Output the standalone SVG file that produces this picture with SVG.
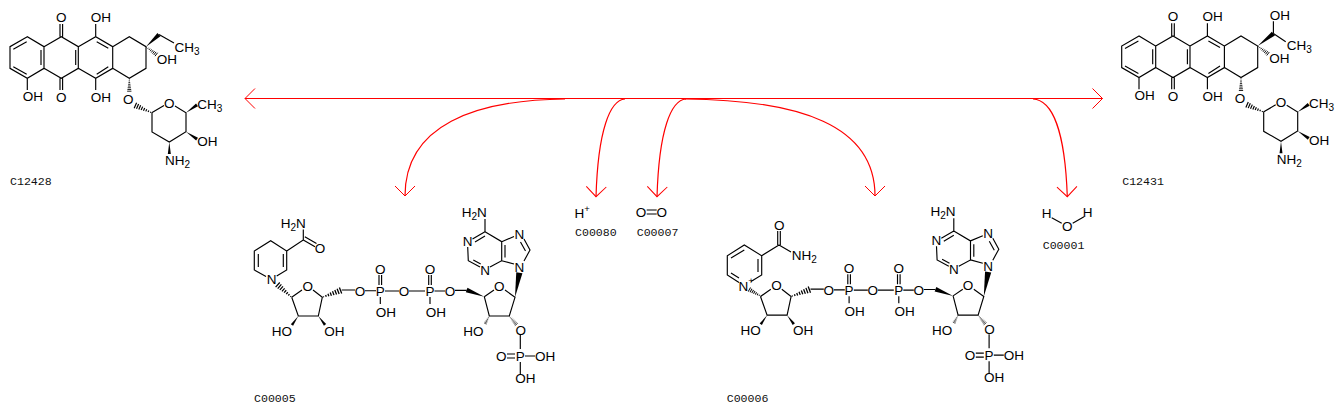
<svg xmlns="http://www.w3.org/2000/svg" xmlns:xlink="http://www.w3.org/1999/xlink" width="1343" height="413" viewBox="0 0 1343 413">
<style>
.b{fill:none;stroke:#000;stroke-width:1.15}
.t{font:13.5px "Liberation Sans",Arial,sans-serif;fill:#000}
.c{text-anchor:middle}
.s{font-size:10px}
.p{font-size:9.5px}
.l{font:11.6px "Liberation Mono","Courier New",monospace;fill:#111}
.r{fill:none;stroke:#f00;stroke-width:1.2}
.w{fill:#000}
.h{fill:none;stroke:#000;stroke-width:1}
</style>
<defs>
<polygon id="wedge" points="0,0 16,-2 16,2"/>
<path id="hash" d="M1 -.4V.4M3 -.7V.7M5 -1V1M7 -1.3V1.3M9 -1.6V1.6M11 -1.9V1.9M13 -2.2V2.2M15 -2.5V2.5"/>
<marker id="a" markerUnits="userSpaceOnUse" markerWidth="14" markerHeight="24" refX="11" refY="11" orient="auto-start-reverse" viewBox="0 0 14 24"><path d="M1 1L11 11L1 21" fill="none" stroke="#f00" stroke-width="1"/></marker>
</defs>
<rect width="1343" height="413" fill="#fff"/>

<g id="connectors">
<path class="r" marker-start="url(#a)" marker-end="url(#a)" d="M245 98.5H1102.5"/>
<path class="r" marker-end="url(#a)" d="M565 99C475 100 405 125 405 196"/>
<path class="r" marker-end="url(#a)" d="M625 99C610 100 598 130 596 196.7"/>
<path class="r" marker-end="url(#a)" d="M686 99C671 100 659 130 657 196.7"/>
<path class="r" marker-end="url(#a)" d="M685 99C800 100 875 125 875 196"/>
<path class="r" marker-end="url(#a)" d="M1033 99C1052 100 1065 130 1067.3 196.7"/>
</g>

<g id="C12428">
<path class="b" d="M27.3 36.7L10 46.7V68.3L27.3 78.3L44 68.3V46.7ZM44 46.7L61.3 36.7L78.3 46.7V68.3L61.3 78.3L44 68.3M78.3 46.7L95.7 36.7L112.7 46.7V68.3L95.7 78.3L78.3 68.3M112.7 46.7L129.3 36.7L146 46.7V68.3L129.3 78.3L112.7 68.3M13.3 49.3L26.7 41.7M13.3 66.7L26.7 74.3M41 50V65M75.7 50V65M96.7 41.7L108.3 48.3M96.7 74.3L108.3 66.7M60 36.7V24M62.6 36.7V24M60 78.3V90M62.6 78.3V90M95.7 36.7V24M95.7 78.3V90M27.3 78.3V90M151.7 112.7L164 105.5M175 106L186 112.7V131.7L169.3 142L152 132V112.7M159 34.5L174 43"/>
<use xlink:href="#wedge" class="w" transform="translate(146 46.7) rotate(-43) scale(1.11)"/>
<use xlink:href="#hash" class="h" transform="translate(146 46.7) rotate(37) scale(.86)"/>
<use xlink:href="#hash" class="h" transform="translate(129.3 78.3) rotate(90) scale(.86)"/>
<use xlink:href="#hash" class="h" transform="translate(151.7 112.7) rotate(203.9) scale(1.19)"/>
<use xlink:href="#wedge" class="w" transform="translate(186 112.7) rotate(-35) scale(.84)"/>
<use xlink:href="#wedge" class="w" transform="translate(186 131.7) rotate(33.6) scale(.83)"/>
<use xlink:href="#wedge" class="w" transform="translate(169.3 142) rotate(90) scale(.75)"/>
<text class="t c" x="61.3" y="22">O</text>
<text class="t c" x="61.3" y="101.5">O</text>
<text class="t" x="90.7" y="22">OH</text>
<text class="t" x="90.7" y="101.5">OH</text>
<text class="t" x="22.7" y="101">OH</text>
<text class="t" x="174.5" y="51.5">CH<tspan class="s" dy="3">3</tspan></text>
<text class="t" x="156.7" y="63.5">OH</text>
<text class="t c" x="128.3" y="104">O</text>
<text class="t c" x="169.3" y="108">O</text>
<text class="t" x="197.3" y="109">CH<tspan class="s" dy="3">3</tspan></text>
<text class="t" x="197.3" y="145.7">OH</text>
<text class="t" x="165" y="164.5">NH<tspan class="s" dy="3">2</tspan></text>
<text class="l" x="10" y="185">C12428</text>
</g>

<g id="C12431" transform="translate(1111.7 -.7)">
<path class="b" d="M27.3 36.7L10 46.7V68.3L27.3 78.3L44 68.3V46.7ZM44 46.7L61.3 36.7L78.3 46.7V68.3L61.3 78.3L44 68.3M78.3 46.7L95.7 36.7L112.7 46.7V68.3L95.7 78.3L78.3 68.3M112.7 46.7L129.3 36.7L146 46.7V68.3L129.3 78.3L112.7 68.3M13.3 49.3L26.7 41.7M13.3 66.7L26.7 74.3M41 50V65M75.7 50V65M96.7 41.7L108.3 48.3M96.7 74.3L108.3 66.7M60 36.7V24M62.6 36.7V24M60 78.3V90M62.6 78.3V90M95.7 36.7V24M95.7 78.3V90M27.3 78.3V90M151.7 112.7L164 105.5M175 106L186 112.7V131.7L169.3 142L152 132V112.7M161.7 34.3L174 42.5M161.7 34.3V22"/>
<use xlink:href="#wedge" class="w" transform="translate(146 46.7) rotate(-38.3) scale(1.25)"/>
<use xlink:href="#hash" class="h" transform="translate(146 46.7) rotate(37) scale(.86)"/>
<use xlink:href="#hash" class="h" transform="translate(129.3 78.3) rotate(90) scale(.86)"/>
<use xlink:href="#hash" class="h" transform="translate(151.7 112.7) rotate(203.9) scale(1.19)"/>
<use xlink:href="#wedge" class="w" transform="translate(186 112.7) rotate(-35) scale(.84)"/>
<use xlink:href="#wedge" class="w" transform="translate(186 131.7) rotate(33.6) scale(.83)"/>
<use xlink:href="#wedge" class="w" transform="translate(169.3 142) rotate(90) scale(.75)"/>
<text class="t c" x="61.3" y="22">O</text>
<text class="t c" x="61.3" y="101.5">O</text>
<text class="t" x="90.7" y="22">OH</text>
<text class="t" x="90.7" y="101.5">OH</text>
<text class="t" x="22.7" y="101">OH</text>
<text class="t" x="158" y="20.5">OH</text>
<text class="t" x="175" y="51">CH<tspan class="s" dy="3">3</tspan></text>
<text class="t" x="157.5" y="64">OH</text>
<text class="t c" x="128.3" y="104">O</text>
<text class="t c" x="169.3" y="108">O</text>
<text class="t" x="197.3" y="109">CH<tspan class="s" dy="3">3</tspan></text>
<text class="t" x="197.3" y="145.7">OH</text>
<text class="t" x="165" y="164.5">NH<tspan class="s" dy="3">2</tspan></text>
<text class="l" x="10.5" y="185.7">C12431</text>
</g>

<g id="C00005">
<path class="b" d="M276.7 276L286.7 270V251L270.7 240.7L254.3 251V270L266 276.5M258.3 254V267M283.3 254V267M286.7 251L303.3 240V229.5M303.3 240L315 246.7M304.8 236.8L316.5 243.6"/>
<use xlink:href="#hash" class="h" transform="translate(291.7 297.3) rotate(221.6) scale(1.25)"/>
<g>
<path class="b" d="M291.7 297.3L302 290M313 290L322.3 297.3L318.3 316H298.3L291.7 297.3M341.7 290H355M365 290.7H376M379 285V275M381.6 285V275M380.3 297V304M385 291H399M409 291H425M428.7 285V275M431.3 285V275M430 297V304M434.5 291H445M455 290.3H466.7M484.3 296.7L494 290M505 290L515 297.3L509.3 316H489.3L484.3 296.7M485 231.7L472.5 239M485 236L475 242M467.7 247L468.3 260.7L480 267M473.3 260L480.7 264M490 267L501.7 260.7V241.7L485 231.7M505 245V257.5M501.7 241.7L514 236.5M524 239L530 250L524 261M520.5 242L525.5 251M514 264L501.7 260.7M485 231.7V219M520.3 335V349M507 354H515M507 358H515M525 356H535M520.3 362V374"/>
<use xlink:href="#hash" class="h" transform="translate(322.3 297.3) rotate(-20.6) scale(1.3)"/>
<use xlink:href="#wedge" class="w" transform="translate(298.3 316) rotate(125) scale(.69)"/>
<use xlink:href="#wedge" class="w" transform="translate(318.3 316) rotate(53) scale(.7)"/>
<use xlink:href="#wedge" class="w" transform="translate(484.3 296.7) rotate(200.8) scale(1.18)"/>
<use xlink:href="#wedge" class="w" transform="translate(515 297.3) rotate(-80) scale(1.56)"/>
<use xlink:href="#hash" class="h" transform="translate(489.3 316) rotate(118) scale(.57)"/>
<use xlink:href="#hash" class="h" transform="translate(509.3 316) rotate(50.6) scale(.73)"/>
<text class="t c" x="307.7" y="291">O</text>
<text class="t c" x="360" y="296">O</text>
<text class="t c" x="380.3" y="296">P</text>
<text class="t c" x="380.3" y="274">O</text>
<text class="t" x="375.7" y="316.7">OH</text>
<text class="t c" x="404" y="296">O</text>
<text class="t c" x="430" y="296">P</text>
<text class="t c" x="430" y="274">O</text>
<text class="t" x="425.7" y="317.3">OH</text>
<text class="t c" x="450" y="296">O</text>
<text class="t c" x="499.3" y="291">O</text>
<text class="t c" x="519.3" y="272">N</text>
<text class="t c" x="485" y="275">N</text>
<text class="t c" x="467.7" y="246">N</text>
<text class="t c" x="519.3" y="239.3">N</text>
<text class="t" x="461.7" y="216.7">H<tspan class="s" dy="3">2</tspan><tspan dy="-3">N</tspan></text>
<text class="t" x="463.3" y="335.7">HO</text>
<text class="t c" x="520.7" y="335">O</text>
<text class="t c" x="520.3" y="361">P</text>
<text class="t c" x="501.3" y="361">O</text>
<text class="t" x="535" y="361">OH</text>
<text class="t" x="515.3" y="383.3">OH</text>
<text class="t" x="271.7" y="335.7">HO</text>
<text class="t" x="324.3" y="335.5">OH</text>
</g>
<text class="t" x="280.7" y="228.3">H<tspan class="s" dy="3">2</tspan><tspan dy="-3">N</tspan></text>
<text class="t c" x="320" y="252.5">O</text>
<text class="t c" x="271.7" y="284">N</text>
<text class="l" x="254" y="402">C00005</text>
</g>

<g id="C00006">
<path class="b" d="M739 282.5L727.3 275V255.7L744.3 245L761.7 255.7V275L751 281.5M731 258L744.3 250M731 273L739 278M758 259V272M761.7 255.7L779 245M777.7 245V231M780.3 245V231M779 245L791 252"/>
<use xlink:href="#hash" class="h" transform="translate(761.7 296.7) rotate(210) scale(.95)"/>
<g transform="translate(468.8 -.8)">
<path class="b" d="M291.7 297.3L302 290M313 290L322.3 297.3L318.3 316H298.3L291.7 297.3M341.7 290H355M365 290.7H376M379 285V275M381.6 285V275M380.3 297V304M385 291H399M409 291H425M428.7 285V275M431.3 285V275M430 297V304M434.5 291H445M455 290.3H466.7M484.3 296.7L494 290M505 290L515 297.3L509.3 316H489.3L484.3 296.7M485 231.7L472.5 239M485 236L475 242M467.7 247L468.3 260.7L480 267M473.3 260L480.7 264M490 267L501.7 260.7V241.7L485 231.7M505 245V257.5M501.7 241.7L514 236.5M524 239L530 250L524 261M520.5 242L525.5 251M514 264L501.7 260.7M485 231.7V219M520.3 335V349M507 354H515M507 358H515M525 356H535M520.3 362V374"/>
<use xlink:href="#hash" class="h" transform="translate(322.3 297.3) rotate(-20.6) scale(1.3)"/>
<use xlink:href="#wedge" class="w" transform="translate(298.3 316) rotate(125) scale(.69)"/>
<use xlink:href="#wedge" class="w" transform="translate(318.3 316) rotate(53) scale(.7)"/>
<use xlink:href="#wedge" class="w" transform="translate(484.3 296.7) rotate(200.8) scale(1.18)"/>
<use xlink:href="#wedge" class="w" transform="translate(515 297.3) rotate(-80) scale(1.56)"/>
<use xlink:href="#hash" class="h" transform="translate(489.3 316) rotate(118) scale(.57)"/>
<use xlink:href="#hash" class="h" transform="translate(509.3 316) rotate(50.6) scale(.73)"/>
<text class="t c" x="307.7" y="291">O</text>
<text class="t c" x="360" y="296">O</text>
<text class="t c" x="380.3" y="296">P</text>
<text class="t c" x="380.3" y="274">O</text>
<text class="t" x="375.7" y="316.7">OH</text>
<text class="t c" x="404" y="296">O</text>
<text class="t c" x="430" y="296">P</text>
<text class="t c" x="430" y="274">O</text>
<text class="t" x="425.7" y="317.3">OH</text>
<text class="t c" x="450" y="296">O</text>
<text class="t c" x="499.3" y="291">O</text>
<text class="t c" x="519.3" y="272">N</text>
<text class="t c" x="485" y="275">N</text>
<text class="t c" x="467.7" y="246">N</text>
<text class="t c" x="519.3" y="239.3">N</text>
<text class="t" x="461.7" y="216.7">H<tspan class="s" dy="3">2</tspan><tspan dy="-3">N</tspan></text>
<text class="t" x="463.3" y="335.7">HO</text>
<text class="t c" x="520.7" y="335">O</text>
<text class="t c" x="520.3" y="361">P</text>
<text class="t c" x="501.3" y="361">O</text>
<text class="t" x="535" y="361">OH</text>
<text class="t" x="515.3" y="383.3">OH</text>
<text class="t" x="271.7" y="335.7">HO</text>
<text class="t" x="324.3" y="335.5">OH</text>
</g>
<text class="t c" x="779.3" y="230">O</text>
<text class="t" x="791.7" y="260">NH<tspan class="s" dy="3">2</tspan></text>
<text class="t" x="738.5" y="290.5">N<tspan class="p" dy="-7">+</tspan></text>
<text class="l" x="726.7" y="401.7">C00006</text>
</g>

<g id="C00080">
<text class="t" x="574.5" y="218.3">H<tspan class="p" dy="-6">+</tspan></text>
<text class="l" x="575" y="235.7">C00080</text>
</g>

<g id="C00007">
<path class="b" d="M646.7 210H656.7M646.7 214H656.7"/>
<text class="t c" x="641" y="217">O</text>
<text class="t c" x="661.7" y="217">O</text>
<text class="l" x="636.7" y="235.7">C00007</text>
</g>

<g id="C00001">
<path class="b" d="M1051.7 217.7L1061.7 223.3M1072.7 223.3L1084 216.7"/>
<text class="t c" x="1046.7" y="218.3">H</text>
<text class="t c" x="1087.7" y="216.7">H</text>
<text class="t c" x="1067.3" y="230.7">O</text>
<text class="l" x="1042.7" y="249">C00001</text>
</g>
</svg>
